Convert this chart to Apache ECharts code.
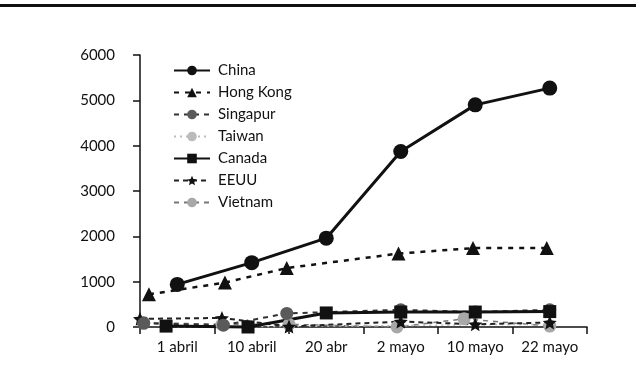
<!DOCTYPE html>
<html>
<head>
<meta charset="utf-8">
<script src="https://cdn.jsdelivr.net/npm/echarts@6/dist/echarts.min.js"></script>
<style>
  html, body { margin: 0; padding: 0; background: #fff; }
  #chart { width: 636px; height: 392px; }
</style>
</head>
<body>
<div id="chart"></div>
<script>
// Fechas del eje horizontal
const categories = ['1 abril', '10 abril', '20 abr', '2 mayo', '10 mayo', '22 mayo'];

// Casos por país: posición en el eje de fechas (índice de categoría) y valor
const chinaX = [0, 1, 2, 3, 4, 5];
const chinaY = [940, 1420, 1960, 3870, 4900, 5270];

const hongKongX = [-0.38, 0.64, 1.47, 2.97, 3.97, 4.96];
const hongKongY = [720, 980, 1300, 1620, 1740, 1740];

const singapurX = [-0.45, 0.62, 1.47, 3, 4, 5];
const singapurY = [80, 40, 300, 380, 330, 380];

const taiwanX = [0, 1, 2, 3, 4, 5];
const taiwanY = [0, 10, 20, 30, 50, 60];

const canadaX = [-0.15, 0.95, 2, 3, 4, 5];
const canadaY = [20, 0, 310, 330, 330, 340];

const eeuuX = [-0.5, 0.6, 1.5, 3, 4, 5];
const eeuuY = [180, 200, 10, 120, 60, 100];

const vietnamX = [-0.45, 0.6, 1.5, 2.95, 3.85, 5];
const vietnamY = [100, 60, 60, 0, 180, 20];

const pairs = (xs, ys) => xs.map((x, i) => [x, ys[i]]);

const STAR = 'path://M10,0 L12.9,6.9 L20,7.6 L14.6,12.3 L16.2,19.5 L10,15.8 L3.8,19.5 L5.4,12.3 L0,7.6 L7.1,6.9 Z';
const FONT = 'Lato';

function line(name, xs, ys, opts) {
  return Object.assign({
    name: name,
    type: 'line',
    xAxisIndex: 1,
    data: pairs(xs, ys),
    clip: false,
    symbolSize: 13,
    showAllSymbol: true
  }, opts);
}

const chart = echarts.init(document.getElementById('chart'), null, { renderer: 'canvas' });

chart.setOption({
  animation: false,
  backgroundColor: '#ffffff',
  textStyle: { fontFamily: FONT, color: '#111' },
  grid: { left: 140, right: 49, top: 55, bottom: 65, containLabel: false },
  legend: {
    orient: 'vertical',
    left: 168,
    top: 58,
    itemWidth: 36,
    itemHeight: 12,
    itemGap: 7,
    textStyle: { fontFamily: FONT, fontSize: 15, color: '#111', padding: [0, 0, 0, 3] },
    data: ['China', 'Hong Kong', 'Singapur', 'Taiwan', 'Canada', 'EEUU', 'Vietnam']
  },
  xAxis: [
    {
      type: 'category',
      data: categories,
      boundaryGap: true,
      axisLine: { onZero: false, lineStyle: { color: '#111', width: 1.5 } },
      axisTick: { show: true, length: 7, lineStyle: { color: '#111', width: 1.5 } },
      axisLabel: { fontFamily: FONT, fontSize: 15, color: '#111', margin: 13 },
      splitLine: { show: false }
    },
    {
      type: 'value',
      min: -0.5,
      max: 5.5,
      show: false
    }
  ],
  yAxis: {
    type: 'value',
    min: 0,
    max: 6000,
    interval: 1000,
    axisLine: { show: true, onZero: false, lineStyle: { color: '#111', width: 1.5 } },
    axisTick: { show: true, length: 7, lineStyle: { color: '#111', width: 1.5 } },
    axisLabel: {
      fontFamily: FONT, fontSize: 15, color: '#111', margin: 25,
      formatter: (v) => String(v)
    },
    splitLine: { show: false }
  },
  series: [
    line('Vietnam', vietnamX, vietnamY, {
      symbol: 'circle',
      lineStyle: { color: '#777', width: 1.5, type: [5, 5] },
      itemStyle: { color: '#a8a8a8' }
    }),
    line('Taiwan', taiwanX, taiwanY, {
      symbol: 'none',
      lineStyle: { color: '#bbbbbb', width: 1.5, type: [2, 4] },
      itemStyle: { color: '#bbbbbb' }
    }),
    line('EEUU', eeuuX, eeuuY, {
      symbol: STAR,
      symbolSize: 14,
      lineStyle: { color: '#222', width: 2, type: [5, 4] },
      itemStyle: { color: '#111' }
    }),
    line('Singapur', singapurX, singapurY, {
      symbol: 'circle',
      lineStyle: { color: '#333', width: 2, type: [5, 5] },
      itemStyle: { color: '#5a5a5a' }
    }),
    line('Canada', canadaX, canadaY, {
      symbol: 'rect',
      lineStyle: { color: '#111', width: 3 },
      itemStyle: { color: '#111' }
    }),
    line('Hong Kong', hongKongX, hongKongY, {
      symbol: 'triangle',
      symbolSize: 14,
      lineStyle: { color: '#111', width: 2.5, type: [5, 6] },
      itemStyle: { color: '#111' }
    }),
    line('China', chinaX, chinaY, {
      symbol: 'circle',
      symbolSize: 15,
      lineStyle: { color: '#111', width: 3 },
      itemStyle: { color: '#111' }
    })
  ],
  graphic: [
    {
      type: 'rect',
      left: 0,
      top: 4,
      shape: { width: 636, height: 3 },
      style: { fill: '#111' },
      silent: true
    }
  ]
});
</script>
</body>
</html>
